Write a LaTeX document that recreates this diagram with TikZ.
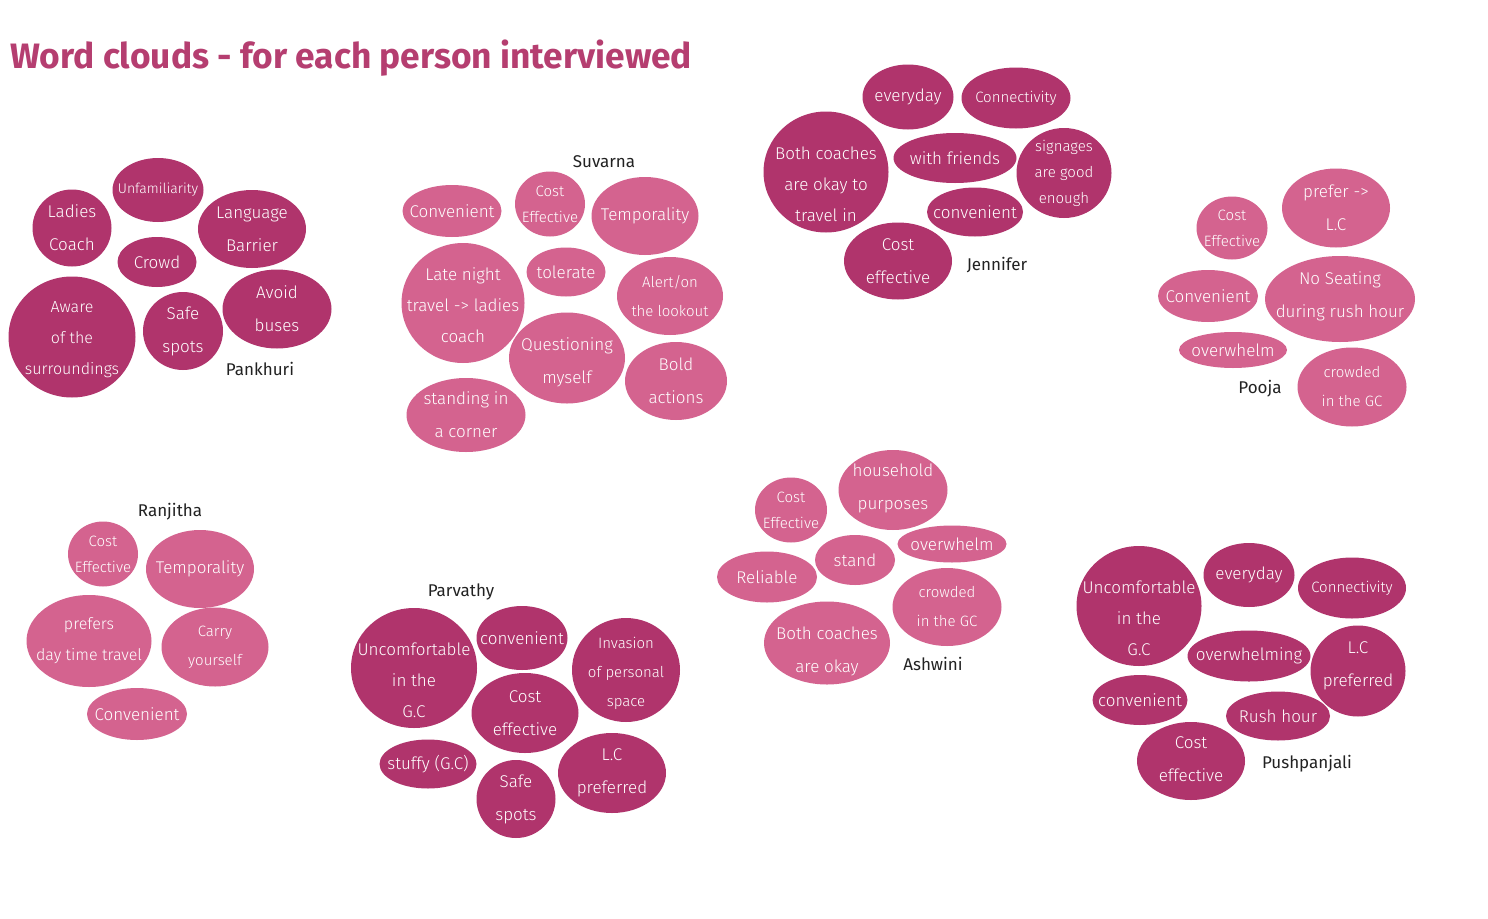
\documentclass[tikz,border=0pt]{standalone}
\usepackage{fontspec}
\setmainfont{Fira Sans}
\newfontfamily\lightface{Fira Sans Light}
\usepackage{tikz}
\usetikzlibrary{shapes.geometric}
\definecolor{deepberry}{HTML}{B0346C}
\definecolor{softberry}{HTML}{D4638F}
\definecolor{titleberry}{HTML}{B53E70}
\definecolor{nameink}{HTML}{222222}
\tikzset{
  every node/.style={font=\normalfont},
  bubble/.style 2 args={ellipse, draw=none, inner sep=0pt,
    minimum width=#1pt, minimum height=#2pt},
  deep/.style={fill=deepberry},
  soft/.style={fill=softberry},
  word/.style={text=white, align=center, inner sep=0pt,
    font=\lightface\fontsize{17}{33}\selectfont},
  tightword/.style={word, font=\lightface\fontsize{17}{31}\selectfont},
  narrowword/.style={word, font=\lightface\fontsize{16}{31}\selectfont},
  midword/.style={word, font=\lightface\fontsize{15}{29}\selectfont},
  smallword/.style={word, font=\lightface\fontsize{15}{26}\selectfont},
  person/.style={text=nameink, inner sep=0pt, font=\fontsize{17}{20}\selectfont},
  heading/.style={text=titleberry, inner sep=0pt,
    font=\fontsize{35.3}{38}\selectfont\bfseries}
}

\begin{document}
\begin{tikzpicture}[x=1pt,y=-1pt]
  \useasboundingbox[fill=white] (0,0) rectangle (1488,918);

  % Title.
  \node[heading, anchor=base west] (title) at (10,68)
    {Word clouds - for each person interviewed};

  % Pankhuri.
  \node[deep, bubble={91}{64}, label={[smallword, font=\lightface\fontsize{14}{26}\selectfont]center:Unfamiliarity}] (pk-unfam) at (158,190) {};
  \node[deep, bubble={79}{77}, label={[word]center:Ladies\\Coach}] (pk-ladies) at (72,228) {};
  \node[deep, bubble={108}{78}, label={[word]center:Language\\Barrier}] (pk-lang) at (252,229) {};
  \node[deep, bubble={79}{50}, label={[word]center:Crowd}] (pk-crowd) at (157,262) {};
  \node[deep, bubble={127}{121}, label={[narrowword, yshift=-3pt]center:Aware\\of the\\surroundings}] (pk-aware) at (72,337) {};
  \node[deep, bubble={80}{78}, label={[word]center:Safe\\spots}] (pk-safe) at (183,331) {};
  \node[deep, bubble={109}{79}, label={[word]center:Avoid\\buses}] (pk-avoid) at (277,309) {};
  \node[person] (pankhuri) at (260,369) {Pankhuri};

  % Suvarna.
  \node[person] (suvarna) at (604,162) {Suvarna};
  \node[soft, bubble={99}{52}, label={[word]center:Convenient}] (sv-conv) at (452,211) {};
  \node[soft, bubble={70}{65}, label={[smallword]center:Cost\\Effective}] (sv-cost) at (550,204) {};
  \node[soft, bubble={107}{78}, label={[word]center:Temporality}] (sv-temp) at (645,216) {};
  \node[soft, bubble={123}{120}, label={[tightword, yshift=-2pt]center:Late night\\travel -> ladies\\coach}] (sv-late) at (463,303) {};
  \node[soft, bubble={79}{49}, label={[word]center:tolerate}] (sv-tol) at (566,272) {};
  \node[soft, bubble={106}{78}, label={[midword]center:Alert/on\\the lookout}] (sv-alert) at (670,296) {};
  \node[soft, bubble={116}{91}, label={[word, yshift=-4pt]center:Questioning\\myself}] (sv-quest) at (567,358) {};
  \node[soft, bubble={102}{78}, label={[word]center:Bold\\actions}] (sv-bold) at (676,381) {};
  \node[soft, bubble={119}{74}, label={[word]center:standing in\\a corner}] (sv-stand) at (466,415) {};

  % Jennifer.
  \node[deep, bubble={91}{65}, label={[word]center:everyday}] (jn-every) at (908,97) {};
  \node[deep, bubble={109}{61}, label={[midword]center:Connectivity}] (jn-conn) at (1016,98) {};
  \node[deep, bubble={125}{121}, label={[tightword, yshift=-12pt]center:Both coaches\\are okay to\\travel in}] (jn-both) at (826,172) {};
  \node[deep, bubble={123}{50}, label={[word]center:with friends}] (jn-friends) at (955,158) {};
  \node[deep, bubble={95}{90}, label={[smallword]center:signages\\are good\\enough}] (jn-sign) at (1064,173) {};
  \node[deep, bubble={96}{49}, label={[word]center:convenient}] (jn-conv) at (975,212) {};
  \node[deep, bubble={108}{77}, label={[word]center:Cost\\effective}] (jn-cost) at (898,261) {};
  \node[person] (jennifer) at (997,265) {Jennifer};

  % Pooja.
  \node[soft, bubble={71}{63}, label={[smallword]center:Cost\\Effective}] (pj-cost) at (1232,228) {};
  \node[soft, bubble={108}{79}, label={[word]center:prefer ->\\L.C}] (pj-prefer) at (1336,208) {};
  \node[soft, bubble={100}{52}, label={[word]center:Convenient}] (pj-conv) at (1208,296) {};
  \node[soft, bubble={150}{86}, label={[word, yshift=3pt]center:No Seating\\during rush hour}] (pj-seat) at (1340,299) {};
  \node[soft, bubble={108}{36}, label={[word]center:overwhelm}] (pj-over) at (1233,350) {};
  \node[soft, bubble={109}{79}, label={[midword]center:crowded\\in the GC}] (pj-crowd) at (1352,387) {};
  \node[person] (pooja) at (1260,389) {Pooja};

  % Ranjitha.
  \node[person] (ranjitha) at (170,512) {Ranjitha};
  \node[soft, bubble={70}{65}, label={[smallword]center:Cost\\Effective}] (rj-cost) at (103,554) {};
  \node[soft, bubble={108}{78}, label={[word]center:Temporality}] (rj-temp) at (200,569) {};
  \node[soft, bubble={125}{92}, label={[narrowword]center:prefers\\day time travel}] (rj-day) at (89,641) {};
  \node[soft, bubble={107}{79}, label={[midword]center:Carry\\yourself}] (rj-carry) at (215,647) {};
  \node[soft, bubble={100}{52}, label={[word]center:Convenient}] (rj-conv) at (137,714) {};

  % Parvathy.
  \node[person] (parvathy) at (461,592) {Parvathy};
  \node[deep, bubble={126}{120}, label={[tightword, yshift=-12pt]center:Uncomfortable\\in the\\G.C}] (pv-uncomf) at (414,668) {};
  \node[deep, bubble={91}{64}, label={[word]center:convenient}] (pv-conv) at (522,638) {};
  \node[deep, bubble={108}{104}, label={[midword, yshift=-3pt]center:Invasion\\of personal\\space}] (pv-inv) at (626,670) {};
  \node[deep, bubble={107}{80}, label={[word]center:Cost\\effective}] (pv-cost) at (525,713) {};
  \node[deep, bubble={97}{49}, label={[word]center:stuffy (G.C)}] (pv-stuffy) at (428,764) {};
  \node[deep, bubble={79}{78}, label={[word]center:Safe\\spots}] (pv-safe) at (516,799) {};
  \node[deep, bubble={108}{80}, label={[word]center:L.C\\preferred}] (pv-lc) at (612,773) {};

  % Ashwini.
  \node[soft, bubble={109}{80}, label={[word, yshift=2pt]center:household\\purposes}] (aw-house) at (893,490) {};
  \node[soft, bubble={72}{65}, label={[smallword]center:Cost\\Effective}] (aw-cost) at (791,510) {};
  \node[soft, bubble={109}{37}, label={[word]center:overwhelm}] (aw-over) at (952,544) {};
  \node[soft, bubble={80}{50}, label={[word]center:stand}] (aw-stand) at (855,560) {};
  \node[soft, bubble={100}{51}, label={[word]center:Reliable}] (aw-rel) at (767,577) {};
  \node[soft, bubble={109}{78}, label={[midword]center:crowded\\in the GC}] (aw-crowd) at (947,607) {};
  \node[soft, bubble={126}{83}, label={[word, yshift=-8pt]center:Both coaches\\are okay}] (aw-both) at (827,643) {};
  \node[person] (ashwini) at (933,664) {Ashwini};

  % Pushpanjali.
  \node[deep, bubble={125}{120}, label={[tightword, yshift=-12pt]center:Uncomfortable\\in the\\G.C}] (pp-uncomf) at (1139,606) {};
  \node[deep, bubble={91}{64}, label={[word]center:everyday}] (pp-every) at (1249,575) {};
  \node[deep, bubble={108}{61}, label={[midword]center:Connectivity}] (pp-conn) at (1352,588) {};
  \node[deep, bubble={123}{51}, label={[word]center:overwhelming}] (pp-over) at (1249,656) {};
  \node[deep, bubble={95}{91}, label={[word, yshift=5pt]center:L.C\\preferred}] (pp-lc) at (1358,671) {};
  \node[deep, bubble={95}{50}, label={[word]center:convenient}] (pp-conv) at (1140,700) {};
  \node[deep, bubble={104}{49}, label={[word]center:Rush hour}] (pp-rush) at (1278,716) {};
  \node[deep, bubble={108}{78}, label={[word, yshift=2pt]center:Cost\\effective}] (pp-cost) at (1191,761) {};
  \node[person] (pushpanjali) at (1307,764) {Pushpanjali};
\end{tikzpicture}
\end{document}
